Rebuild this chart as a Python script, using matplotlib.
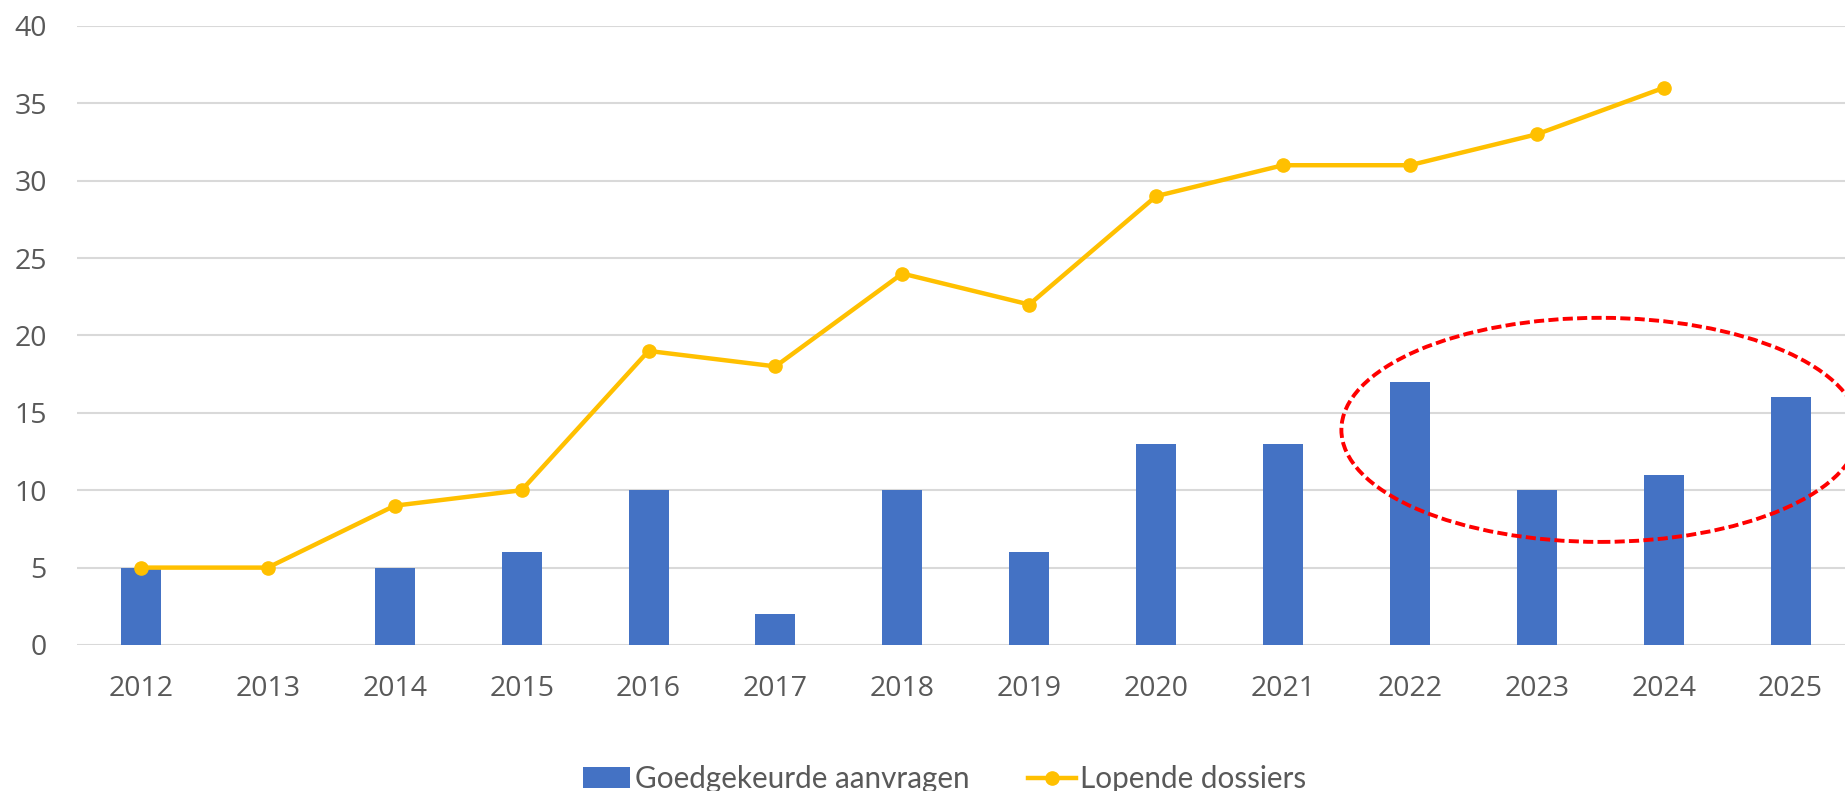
import matplotlib
matplotlib.use("Agg")
import matplotlib.pyplot as plt
import numpy as np
from matplotlib.patches import Ellipse, Patch
from matplotlib.lines import Line2D

years = ["2012", "2013", "2014", "2015", "2016", "2017", "2018", "2019",
         "2020", "2021", "2022", "2023", "2024", "2025"]
goedgekeurd = [5, 0, 5, 6, 10, 2, 10, 6, 13, 13, 17, 10, 11, 16]
lopend = [5, 5, 9, 10, 19, 18, 24, 22, 29, 31, 31, 33, 36, np.nan]
yticks = [0, 5, 10, 15, 20, 25, 30, 35, 40]

BLUE = "#4472C4"
GOLD = "#FFC000"
GRID = "#D9D9D9"
TXT = "#595959"

fig = plt.figure(figsize=(18.45, 7.91), dpi=100)
ax = fig.add_axes([0.042, 0.1846, 0.9629, 0.7826])
x = np.arange(len(years))
ax.bar(x, goedgekeurd, width=0.315, color=BLUE, zorder=2)
ax.plot(x, lopend, color=GOLD, lw=3.2, marker="o", markersize=9.5, zorder=3)

ax.set_xlim(-0.5, len(years) - 0.5)
ax.set_ylim(0, 40)
ax.set_yticks(yticks)
ax.set_xticks(x)
ax.set_xticklabels(years)
ax.grid(axis="y", color=GRID, lw=1.5, zorder=0)
ax.set_axisbelow(True)
for s in ax.spines.values():
    s.set_visible(False)
ax.tick_params(axis="both", length=0, labelsize=20.5, labelcolor=TXT,
               labelfontfamily="Open Sans")
ax.tick_params(axis="y", pad=22)
ax.tick_params(axis="x", pad=21.5)

ell = Ellipse((11.5, 13.9), width=2 * 2.04, height=2 * 7.24, fill=False,
              edgecolor="#FF0000", lw=2.8, linestyle=(0, (2.6, 1.1)),
              clip_on=False, zorder=4)
ax.add_patch(ell)

handles = [Patch(facecolor=BLUE, edgecolor="none"),
           Line2D([0], [0], color=GOLD, lw=3.2, marker="o", markersize=9.5)]
fig.legend(handles, ["Goedgekeurde aanvragen", "Lopende dossiers"],
           loc="center", bbox_to_anchor=(0.512, 0.015), ncol=2, frameon=False,
           prop={"family": "Lato", "size": 21.3}, labelcolor=TXT,
           handlelength=1.6, handletextpad=0.15, columnspacing=2.0)

fig.savefig("out.png", dpi=100)
